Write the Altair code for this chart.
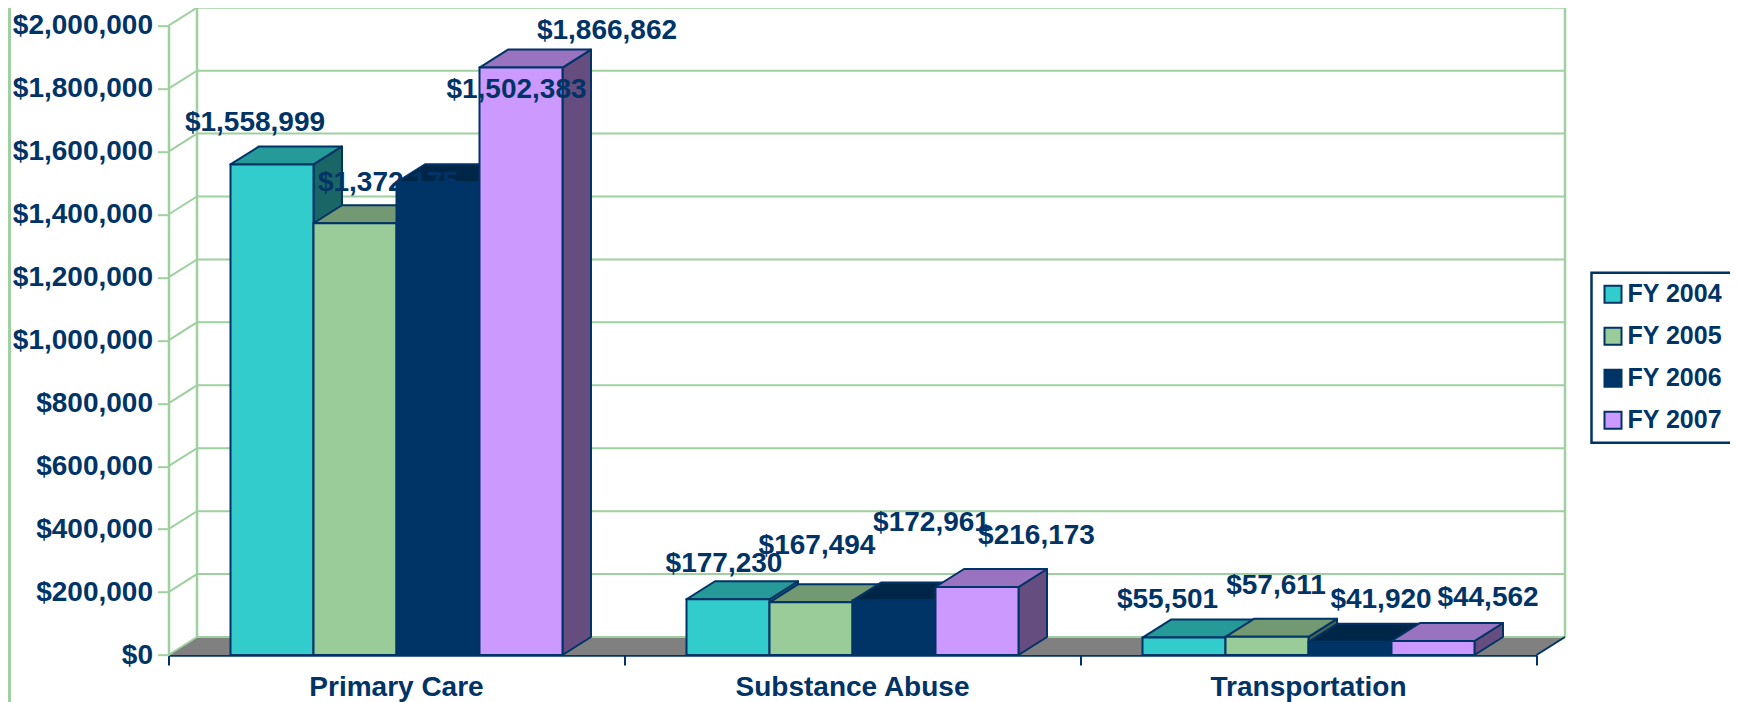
import altair as alt
import pandas as pd

# ---- chart values ----
categories = ["Primary Care", "Substance Abuse", "Transportation"]
series = ["FY 2004", "FY 2005", "FY 2006", "FY 2007"]
values = {
    "FY 2004": [1558999, 177230, 55501],
    "FY 2005": [1372175, 167494, 57611],
    "FY 2006": [1502383, 172961, 41920],
    "FY 2007": [1866862, 216173, 44562],
}
y_ticks = [0, 200000, 400000, 600000, 800000, 1000000, 1200000, 1400000, 1600000, 1800000, 2000000]

# ---- styles ----
front_colors = ["#33CCCC", "#99CC99", "#003366", "#CC99FF"]
top_colors = ["#269999", "#739973", "#002647", "#9973BF"]
side_colors = ["#1A6666", "#4D664D", "#001A33", "#664D80"]
NAVY = "#003366"
GREEN = "#9FD09F"
FONT = "Liberation Sans"

# ---- layout (page pixels of the plot box) ----
PX0, PX1, PY0, PY1 = 168.5, 1536.5, 655.0, 25.7
W, H = PX1 - PX0, PY0 - PY1
CAT_PX = W / 3
YMAX = 2000000
DEPTH_X = 28.5 / CAT_PX          # depth of the 3-D box, category units
DEPTH_Y = 18.0 / H * YMAX        # depth of the 3-D box, value units
BAR_W = 83.0 / CAT_PX
BAR_START = 62.0 / CAT_PX


def xd(px):
    return (px - PX0) / CAT_PX


def yd(py):
    return (PY0 - py) / H * YMAX


# label centres as placed in the reference (page pixels), by series then category
label_px = {
    "FY 2004": [(255, 122.5), (724, 564), (1167.5, 600)],
    "FY 2005": [(388, 182.5), (817, 546), (1276, 586)],
    "FY 2006": [(516.5, 90), (931.5, 522.5), (1381, 600)],
    "FY 2007": [(607, 31), (1036.5, 536), (1488, 598)],
}

xs = alt.Scale(domain=[0, 3], nice=False, zero=False)
ys = alt.Scale(domain=[0, YMAX], nice=False, zero=False)

axis_y = alt.Axis(values=y_ticks, format="$,.0f", tickSize=11, tickWidth=2, tickColor=GREEN,
                  domainColor=GREEN, domainWidth=2.5, labelFont=FONT, labelFontSize=28,
                  labelFontWeight="bold", labelColor=NAVY, labelPadding=5, grid=False,
                  labelOverlap=False, labelBound=False, labelFlush=False, labelLimit=300)
axis_x = alt.Axis(values=[0, 1, 2, 3], labels=False, tickSize=10, tickWidth=2, tickColor=NAVY,
                  domainColor=NAVY, domainWidth=2.5, grid=False)


def X(f="x"):
    return alt.X(f"{f}:Q", scale=xs, axis=axis_x, title=None)


def Y(f="y"):
    return alt.Y(f"{f}:Q", scale=ys, axis=axis_y, title=None, stack=None)


layers = []

# floor
floor = pd.DataFrame({"x": [0, DEPTH_X, 3, 3 + DEPTH_X],
                      "y": [0, DEPTH_Y, DEPTH_Y, DEPTH_Y],
                      "y2": [0, 0, 0, DEPTH_Y]})
layers.append(alt.Chart(floor).mark_area(color="#808080").encode(
    x=X(), y=Y(), y2="y2:Q"))

# gridlines on the side and back walls
grid_rows = []
for v in y_ticks:
    grid_rows += [{"v": v, "x": 0, "y": v}, {"v": v, "x": DEPTH_X, "y": v + DEPTH_Y},
                  {"v": v, "x": 3 + DEPTH_X, "y": v + DEPTH_Y}]
layers.append(alt.Chart(pd.DataFrame(grid_rows)).mark_line(color=GREEN, strokeWidth=2).encode(
    x=X(), y=Y(), detail="v:N"))

# vertical edges of the back wall
wall = pd.DataFrame([{"w": w, "x": x, "y": y} for w, x in (("l", DEPTH_X), ("r", 3 + DEPTH_X))
                     for y in (DEPTH_Y, YMAX + DEPTH_Y)])
layers.append(alt.Chart(wall).mark_line(color=GREEN, strokeWidth=2.5).encode(
    x=X(), y=Y(), detail="w:N"))

# navy right edge of the floor
edge = pd.DataFrame({"x": [3, 3 + DEPTH_X], "y": [0, DEPTH_Y]})
layers.append(alt.Chart(edge).mark_line(color=NAVY, strokeWidth=2).encode(x=X(), y=Y()))

# slide border strip at the far left
strip = pd.DataFrame({"x": [xd(9.5), xd(9.5)], "y": [yd(8), yd(702)]})
layers.append(alt.Chart(strip).mark_line(color=GREEN, strokeWidth=3).encode(x=X(), y=Y()))

# 3-D boxes, painted series by series
for i, s in enumerate(series):
    side_rows, top_rows, front_rows = [], [], []
    for c, cat in enumerate(categories):
        v = values[s][c]
        x0 = c + BAR_START + i * BAR_W
        x1 = x0 + BAR_W
        side_rows += [{"c": cat, "x": x1, "y": v, "y2": 0},
                      {"c": cat, "x": x1 + DEPTH_X, "y": v + DEPTH_Y, "y2": DEPTH_Y}]
        top_rows += [{"c": cat, "x": x0, "y": v, "y2": v},
                     {"c": cat, "x": x0 + DEPTH_X, "y": v + DEPTH_Y, "y2": v},
                     {"c": cat, "x": x1, "y": v + DEPTH_Y, "y2": v},
                     {"c": cat, "x": x1 + DEPTH_X, "y": v + DEPTH_Y, "y2": v + DEPTH_Y}]
        front_rows.append({"c": cat, "x": x0, "x2": x1, "y": v, "y2": 0, "series": s})
    layers.append(alt.Chart(pd.DataFrame(side_rows)).mark_area(
        fill=side_colors[i], stroke=NAVY, strokeWidth=2, strokeJoin="round").encode(
        x=X(), y=Y(), y2="y2:Q", detail="c:N"))
    layers.append(alt.Chart(pd.DataFrame(top_rows)).mark_area(
        fill=top_colors[i], stroke=NAVY, strokeWidth=2, strokeJoin="round").encode(
        x=X(), y=Y(), y2="y2:Q", detail="c:N"))
    layers.append(alt.Chart(pd.DataFrame(front_rows)).mark_rect(stroke=NAVY, strokeWidth=2).encode(
        x=X(), x2="x2:Q", y=Y(), y2="y2:Q",
        color=alt.Color("series:N", scale=alt.Scale(domain=series, range=front_colors),
                        legend=alt.Legend(
                            title=None, orient="none", legendX=1423, legendY=247,
                            fillColor="white", strokeColor=NAVY, padding=9,
                            symbolType="square", symbolSize=289, symbolStrokeColor=NAVY,
                            symbolStrokeWidth=2, symbolOpacity=1, labelFont=FONT,
                            labelFontSize=25, labelFontWeight="bold", labelColor=NAVY,
                            labelOffset=2, rowPadding=16, labelLimit=300))))

# data labels
label_rows = []
for s in series:
    for c in range(len(categories)):
        px, py = label_px[s][c]
        label_rows.append({"x": xd(px), "y": yd(py), "t": "${:,}".format(values[s][c])})
layers.append(alt.Chart(pd.DataFrame(label_rows)).mark_text(
    font=FONT, fontSize=28, fontWeight="bold", color=NAVY, align="center", baseline="middle").encode(
    x=X(), y=Y(), text="t:N"))

# category labels
cat_df = pd.DataFrame({"x": [i + 0.5 for i in range(3)], "y": [0, 0, 0], "t": categories})
layers.append(alt.Chart(cat_df).mark_text(
    font=FONT, fontSize=28, fontWeight="bold", color=NAVY, align="center", baseline="middle", dy=33).encode(
    x=X(), y=Y(), text="t:N"))

chart = alt.layer(*layers).properties(
    width=W, height=H,
    autosize=alt.AutoSizeParams(type="none"),
    padding={"left": PX0 - 8, "top": PY1 - 8, "right": 1722 - (PX1 - 8), "bottom": 694 - (PY0 - 8)},
    background="white",
).configure_view(stroke=None).configure_legend(strokeWidth=2.5)

chart.save("out.html", embed_options={"renderer": "svg", "actions": False})
